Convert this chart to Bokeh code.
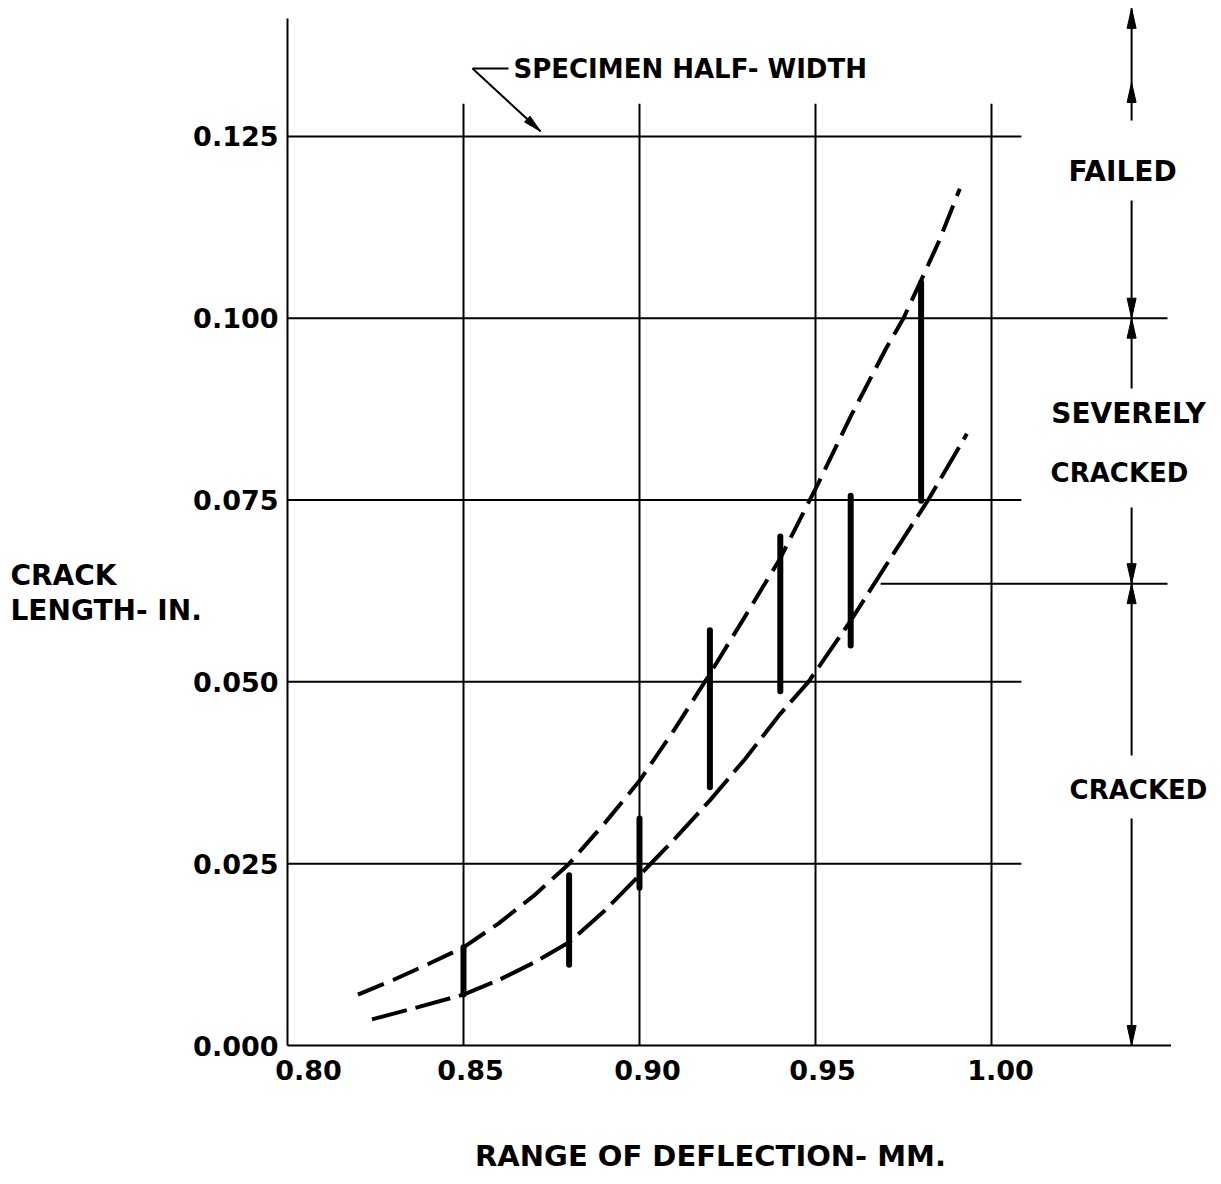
import math
from bokeh.plotting import figure
from bokeh.models import Range1d
from bokeh.embed import file_html
from bokeh.resources import INLINE
from bokeh.core.properties import value

# ---------------- data ----------------
x_ticks = [0.80, 0.85, 0.90, 0.95, 1.00]
x_tick_labels = ["0.80", "0.85", "0.90", "0.95", "1.00"]
y_ticks = [0.000, 0.025, 0.050, 0.075, 0.100, 0.125]
y_tick_labels = ["0.000", "0.025", "0.050", "0.075", "0.100", "0.125"]

# measured crack-length ranges (thick vertical bars)
bar_x = [0.85, 0.88, 0.90, 0.92, 0.94, 0.96, 0.98]
bar_top = [0.0135, 0.0234, 0.0312, 0.0571, 0.0700, 0.0756, 0.1049]
bar_bottom = [0.0070, 0.0111, 0.0217, 0.0355, 0.0487, 0.0550, 0.0749]

# upper dashed envelope
upper_x = [0.820, 0.830, 0.840, 0.850, 0.860, 0.870, 0.880, 0.890, 0.900, 0.910,
           0.920, 0.930, 0.940, 0.951, 0.960, 0.970, 0.975, 0.980, 0.985, 0.991]
upper_y = [0.0070, 0.0090, 0.0112, 0.0135, 0.0168, 0.0206, 0.0250, 0.0305, 0.0364, 0.0435,
           0.0511, 0.0590, 0.0670, 0.0775, 0.0865, 0.0958, 0.1000, 0.1052, 0.1105, 0.1178]

# lower dashed envelope
lower_x = [0.824, 0.835, 0.850, 0.860, 0.870, 0.880, 0.890, 0.900, 0.910, 0.920,
           0.930, 0.940, 0.948, 0.960, 0.970, 0.982, 0.993]
lower_y = [0.0036, 0.0050, 0.0070, 0.0090, 0.0114, 0.0142, 0.0185, 0.0234, 0.0284, 0.0337,
           0.0394, 0.0456, 0.0500, 0.0584, 0.0660, 0.0750, 0.0841]

# category limits on the right-hand scale
half_width = 0.125
severe_limit = 0.100
cracked_limit = 0.0635

# ---------------- figure ----------------
W, H = 1220, 1183
SX = 3520.0      # px per mm
SY = 7273.0      # px per inch
X_START = 0.80 - 287 / SX
X_END = X_START + W / SX
Y_END = 1045 / SY
Y_START = Y_END - H / SY

p = figure(width=W, height=H, x_range=Range1d(X_START, X_END),
           y_range=Range1d(Y_START, Y_END), output_backend="svg",
           toolbar_location=None, title=None,
           x_axis_location=None, y_axis_location=None,
           min_border=0)
p.background_fill_color = "white"
p.border_fill_color = "white"
p.outline_line_color = None
p.grid.visible = False

FONT = value("DejaVu Sans")
LW = 2

# tick labels
p.text(x=x_ticks, y=[0] * len(x_ticks), text=x_tick_labels, text_font=FONT,
       text_font_size="27px", text_font_style="bold", text_align="center",
       text_baseline="middle", text_color="black",
       x_offset=[21, 7, 8, 7, 9], y_offset=24)
p.text(x=[x_ticks[0]] * len(y_ticks), y=y_ticks, text=y_tick_labels, text_font=FONT,
       text_font_size="27px", text_font_style="bold", text_align="right",
       text_baseline="middle", text_color="black", x_offset=-9)

# horizontal grid lines (with their right-hand extents)
h_right = {0.000: 1.051, 0.100: 1.050}
p.segment(x0=[x_ticks[0]] * len(y_ticks), y0=y_ticks,
          x1=[h_right.get(v, 1.0085) for v in y_ticks], y1=y_ticks,
          line_color="black", line_width=LW)
# vertical grid lines
p.segment(x0=x_ticks[1:], y0=[0] * 4, x1=x_ticks[1:], y1=[0.1295] * 4,
          line_color="black", line_width=LW)
# left axis line
p.segment(x0=[x_ticks[0]], y0=[0], x1=[x_ticks[0]], y1=[0.1412],
          line_color="black", line_width=LW)
# cracked / severely-cracked boundary
p.segment(x0=[0.9685], y0=[cracked_limit], x1=[1.050], y1=[cracked_limit],
          line_color="black", line_width=LW)

# envelopes
p.line(upper_x, upper_y, line_color="black", line_width=4, line_dash="28 10")
p.line(lower_x, lower_y, line_color="black", line_width=4, line_dash="36 9")

# data bars
p.segment(x0=bar_x, y0=bar_bottom, x1=bar_x, y1=bar_top,
          line_color="black", line_width=6, line_cap="round")


def head(xt, yt, dx, dy, length=20, half=4.5):
    n = math.hypot(dx, dy)
    ux, uy = dx / n, dy / n
    bx, by = -ux * length, -uy * length
    nx, ny = -uy * half, ux * half
    return ([xt, xt + (bx + nx) / SX, xt + (bx - nx) / SX],
            [yt, yt + (by + ny) / SY, yt + (by - ny) / SY])


# right-hand category dimension arrows
AX = 1.0398
top_tip = 0.1426
seg_y0 = [0.12718, 0.11618, severe_limit, 0.07397, cracked_limit, 0.03121]
seg_y1 = [top_tip, severe_limit, 0.09033, cracked_limit, 0.03987, 0.0]
p.segment(x0=[AX] * 6, y0=seg_y0, x1=[AX] * 6, y1=seg_y1,
          line_color="black", line_width=LW)
heads = [head(AX, top_tip, 0, 1), head(AX, 0.13241, 0, 1),
         head(AX, severe_limit, 0, -1), head(AX, severe_limit, 0, 1),
         head(AX, cracked_limit, 0, -1), head(AX, cracked_limit, 0, 1),
         head(AX, 0.0, 0, -1)]

# specimen half-width leader
lx0, ly0 = 0.85256, 0.13433
tx, ty = 0.87188, 0.1257
p.segment(x0=[lx0, lx0], y0=[ly0, ly0], x1=[0.86278, tx], y1=[ly0, ty],
          line_color="black", line_width=LW)
heads.append(head(tx, ty, (tx - lx0) * SX, (ty - ly0) * SY, length=18, half=4))

p.patches(xs=[h[0] for h in heads], ys=[h[1] for h in heads],
          fill_color="black", line_color="black", line_width=1)

p.text(x=[0.8642], y=[0.13433], text=["SPECIMEN HALF- WIDTH"],
       text_font=FONT, text_font_size="26px", text_font_style="bold",
       text_align="left", text_baseline="middle", text_color="black")
p.text(x=[1.03722, 1.03892], y=[0.1202, 0.0869], text=["FAILED", "SEVERELY"],
       text_font=FONT, text_font_size="28px", text_font_style="bold",
       text_align="center", text_baseline="middle", text_color="black")
p.text(x=[1.03636, 1.04176], y=[0.07865, 0.0351], text=["CRACKED", "CRACKED"],
       text_font=FONT, text_font_size="26px", text_font_style="bold",
       text_align="center", text_baseline="middle", text_color="black")

# axis titles
p.text(x=[0.72131, 0.72131], y=[0.064622, 0.059810], text=["CRACK", "LENGTH- IN."],
       text_font=FONT, text_font_size="28px", text_font_style="bold",
       text_align="left", text_baseline="middle", text_color="black")
p.text(x=[0.92017], y=[-0.015125], text=["RANGE OF DEFLECTION- MM."],
       text_font=FONT, text_font_size="29px", text_font_style="bold",
       text_align="center", text_baseline="middle", text_color="black")

open("out.html", "w").write(file_html(p, INLINE))
